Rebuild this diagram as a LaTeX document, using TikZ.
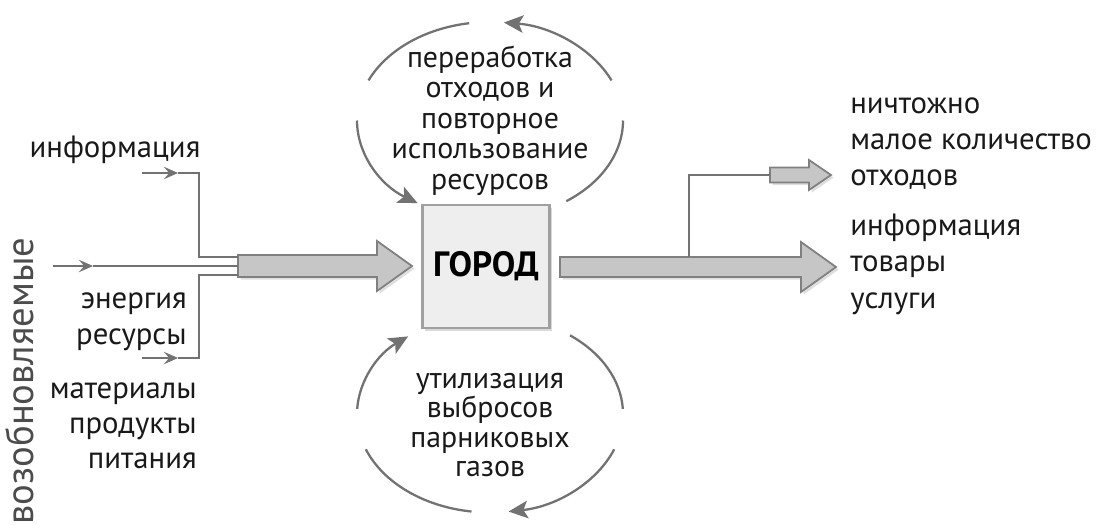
\documentclass[tikz,border=0pt]{standalone}
\usepackage{fontspec}
\setmainfont{PT Sans}
\usetikzlibrary{arrows.meta,calc,shadows}

\definecolor{linegray}{HTML}{727272}
\definecolor{arrowfill}{HTML}{C6C6C6}
\definecolor{boxfill}{HTML}{EEEEEE}
\definecolor{boxline}{HTML}{A0A0A0}

% fat arrow: start, tip, shaft half, head half, head length
\newcommand\fatarrow[5]{%
  \path[fat] ($(#1)+(0,-#3)$) -- ($(#2)+(-#5,-#3)$) -- ($(#2)+(-#5,-#4)$) -- (#2)
    -- ($(#2)+(-#5,#4)$) -- ($(#2)+(-#5,#3)$) -- ($(#1)+(0,#3)$) -- cycle;}

\begin{document}
\begin{tikzpicture}[x=0.02cm,y=-0.02cm,
  txt/.style={font=\fontsize{17.5}{20}\selectfont,inner sep=0pt,text=black!90},
  cyctxt/.style={txt,font=\fontsize{17}{20}\selectfont,anchor=base},
  feed/.style={draw=linegray,line width=1.2pt},
  feedtip/.style={feed,-{Stealth[length=8pt,width=7pt,inset=3pt]}},
  loop/.style={draw=linegray,line width=1.3pt},
  looptip/.style={loop,-{Stealth[length=11pt,width=10pt,inset=2.5pt]}},
  fat/.style={fill=arrowfill,draw=gray,line width=1pt,
    drop shadow={shadow xshift=1.5pt,shadow yshift=-1.5pt,opacity=.25}},
  citybox/.style={draw=boxline,fill=boxfill,line width=1.6pt,
    minimum width=2.54cm,minimum height=2.46cm,
    font=\fontsize{20}{24}\selectfont\bfseries,
    drop shadow={shadow xshift=1.5pt,shadow yshift=-1.5pt,opacity=.3}}]
\useasboundingbox (0,0) rectangle (1097,524);

% city
\node[citybox] (city) at (486,266.5) {ГОРОД};

% inputs
\coordinate (inA) at (142,173);
\coordinate (inAm) at (178,173);
\coordinate (inB) at (53,266);
\coordinate (inBm) at (93,266);
\coordinate (inC) at (142,358);
\coordinate (inCm) at (178,358);
\coordinate (jA) at (199,257);
\coordinate (jC) at (199,275);
\coordinate (fatL) at (238,266);
\coordinate (fatLtip) at (412,266);
\fatarrow{fatL}{fatLtip}{11}{25}{35}
\draw[feedtip] (inA) -- (inAm);
\draw[feed] (inAm) -| (jA) -- (jA -| fatL);
\draw[feedtip] (inB) -- (inBm);
\draw[feed] (inBm) -- (fatL);
\draw[feedtip] (inC) -- (inCm);
\draw[feed] (inCm) -| (jC) -- (jC -| fatL);

% outputs
\coordinate (fatR) at (560,267);
\coordinate (fatRtip) at (836,267);
\coordinate (br) at (689,257);
\coordinate (wasteS) at (770,175);
\coordinate (wasteTip) at (831,175);
\fatarrow{fatR}{fatRtip}{10}{25}{35}
\fatarrow{wasteS}{wasteTip}{7.5}{15}{22}
\draw[feed] (br) |- (wasteS);

% cycles
\coordinate (topc) at (490,120.5);
\coordinate (botc) at (490,414);
\foreach \a/\b/\s in {204/261/loop,336/276/looptip,180/123/looptip,55/0/loop}
  \draw[\s] ($(topc)+(\a:133 and 98.5)$) arc[start angle=\a,end angle=\b,x radius=133,y radius=98.5];
\foreach \a/\b/\s in {183/232/looptip,307/357/loop,21/82/looptip,159/98/loop}
  \draw[\s] ($(botc)+(\a:133 and 98.5)$) arc[start angle=\a,end angle=\b,x radius=133,y radius=98.5];

% labels
\node[txt,anchor=base] (infoL) at (115,157) {информация};
\foreach \t [count=\i from 0] in {энергия,ресурсы}
  \node[txt,anchor=base east] (er-\i) at (187,308+36*\i) {\t};
\foreach \t [count=\i from 0] in {материалы,продукты,питания}
  \node[txt,anchor=base east] (mp-\i) at (197,398+35*\i) {\t};
\foreach \t [count=\i from 0] in {ничтожно,малое количество,отходов}
  \node[txt,anchor=base west] (waste-\i) at (850,113+36*\i) {\t};
\foreach \t [count=\i from 0] in {информация,товары,услуги}
  \node[txt,anchor=base west] (goods-\i) at (850,235+36.5*\i) {\t};
\foreach \t [count=\i from 0] in {переработка,отходов и,повторное,использование,ресурсов}
  \node[cyctxt] (recycle-\i) at (490,67+30.5*\i) {\t};
\foreach \t [count=\i from 0] in {утилизация,выбросов,парниковых,газов}
  \node[cyctxt] (gas-\i) at (490,388+29.5*\i) {\t};
\node[txt,rotate=90,anchor=base,text=black!70,font=\fontsize{22}{26}\selectfont] (renew) at (33,381) {возобновляемые};
\end{tikzpicture}
\end{document}
